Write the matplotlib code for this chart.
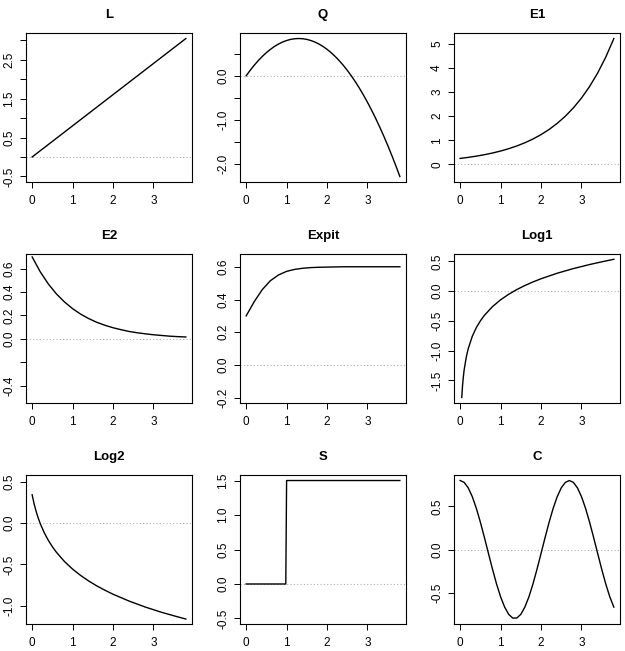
import matplotlib
matplotlib.use("Agg")
import matplotlib.pyplot as plt

plt.rcParams['font.family'] = ['Liberation Sans', 'DejaVu Sans']

# ---------------- data ----------------
titles = ["L", "Q", "E1", "E2", "Expit", "Log1", "Log2", "S", "C"]

x_L = [0.0, 1.0, 2.0, 3.0, 3.8]
y_L = [0.0, 0.8, 1.6, 2.4, 3.04]

x_01 = [round(0.1 * i, 1) for i in range(39)]  # 0.0 .. 3.8 grid positions
y_Q = [0, 0.125, 0.24, 0.345, 0.44, 0.525, 0.6, 0.665, 0.72, 0.765,
       0.8, 0.825, 0.84, 0.845, 0.84, 0.825, 0.8, 0.765, 0.72, 0.665,
       0.6, 0.525, 0.44, 0.345, 0.24, 0.125, 0, -0.135, -0.28, -0.435,
       -0.6, -0.775, -0.96, -1.155, -1.36, -1.575, -1.8, -2.035, -2.28]

x_02 = [0.0, 0.2, 0.4, 0.6, 0.8, 1.0, 1.2, 1.4, 1.6, 1.8,
        2.0, 2.2, 2.4, 2.6, 2.8, 3.0, 3.2, 3.4, 3.6, 3.8]
y_E1 = [0.25, 0.293, 0.344, 0.404, 0.474, 0.556, 0.653, 0.766, 0.899, 1.055,
        1.238, 1.453, 1.705, 2.001, 2.348, 2.756, 3.234, 3.795, 4.454, 5.226]
y_E2 = [0.7, 0.573, 0.469, 0.384, 0.315, 0.258, 0.211, 0.173, 0.141, 0.116,
        0.095, 0.078, 0.063, 0.052, 0.043, 0.035, 0.029, 0.023, 0.019, 0.016]
y_Expit = [0.3, 0.387, 0.461, 0.515, 0.550, 0.572, 0.584, 0.591, 0.595, 0.597,
           0.598, 0.599, 0.6, 0.6, 0.6, 0.6, 0.6, 0.6, 0.6, 0.6]

x_Log1 = [0.04, 0.06, 0.08, 0.1, 0.15, 0.2, 0.3, 0.4, 0.5, 0.6, 0.8, 1.0,
          1.2, 1.4, 1.6, 1.8, 2.0, 2.4, 2.8, 3.2, 3.6, 3.8]
y_Log1 = [-1.787, -1.580, -1.433, -1.319, -1.113, -0.966, -0.759, -0.612,
          -0.499, -0.406, -0.259, -0.145, -0.052, 0.027, 0.095, 0.155, 0.209,
          0.302, 0.380, 0.448, 0.508, 0.536]

x_Log2 = [0.0, 0.05, 0.1, 0.15, 0.2, 0.3, 0.4, 0.5, 0.6, 0.8, 1.0, 1.2,
          1.4, 1.6, 1.8, 2.0, 2.4, 2.8, 3.2, 3.6, 3.8]
y_Log2 = [0.34, 0.228, 0.137, 0.060, -0.007, -0.118, -0.209, -0.286, -0.353,
          -0.465, -0.556, -0.633, -0.700, -0.759, -0.811, -0.859, -0.942,
          -1.014, -1.077, -1.132, -1.158]

x_S = [0.0, 0.98, 1.0, 3.8]
y_S = [0.0, 0.0, 1.5, 1.5]

y_C = [0.8, 0.778, 0.715, 0.613, 0.478, 0.317, 0.139, -0.046, -0.229, -0.4,
       -0.549, -0.668, -0.752, -0.795, -0.795, -0.752, -0.668, -0.549, -0.4,
       -0.229, -0.046, 0.139, 0.317, 0.478, 0.613, 0.715, 0.778, 0.8, 0.778,
       0.715, 0.613, 0.478, 0.317, 0.139, -0.046, -0.229, -0.4, -0.549, -0.668]

series = [(x_L, y_L), (x_01, y_Q), (x_02, y_E1), (x_02, y_E2), (x_02, y_Expit),
          (x_Log1, y_Log1), (x_Log2, y_Log2), (x_S, y_S), (x_01, y_C)]

x_ticks = [0, 1, 2, 3]
x_tick_labels = ["0", "1", "2", "3"]

# y ticks and the labels that are shown ('' = tick without label)
y_ticks = [
    [-0.5, 0, 0.5, 1.0, 1.5, 2.0, 2.5, 3.0],
    [-2.0, -1.5, -1.0, -0.5, 0.0, 0.5],
    [0, 1, 2, 3, 4, 5],
    [-0.4, -0.2, 0.0, 0.2, 0.4, 0.6],
    [-0.2, 0.0, 0.2, 0.4, 0.6],
    [-1.5, -1.0, -0.5, 0.0, 0.5],
    [-1.0, -0.5, 0.0, 0.5],
    [-0.5, 0.0, 0.5, 1.0, 1.5],
    [-0.5, 0.0, 0.5],
]
y_tick_labels = [
    ["-0.5", "", "0.5", "", "1.5", "", "2.5", ""],
    ["-2.0", "", "-1.0", "", "0.0", ""],
    ["0", "1", "2", "3", "4", "5"],
    ["-0.4", "", "0.0", "0.2", "0.4", "0.6"],
    ["-0.2", "0.0", "0.2", "0.4", "0.6"],
    ["-1.5", "-1.0", "-0.5", "0.0", "0.5"],
    ["-1.0", "-0.5", "0.0", "0.5"],
    ["-0.5", "0.0", "0.5", "1.0", "1.5"],
    ["-0.5", "0.0", "0.5"],
]
y_limits = [(-0.642, 3.182), (-2.405, 0.97), (-0.729, 5.455), (-0.548, 0.725),
            (-0.232, 0.678), (-1.88, 0.625), (-1.218, 0.579), (-0.58, 1.58),
            (-0.864, 0.864)]
x_limits = (-0.152, 3.952)

# ---------------- layout ----------------
W, H = 625, 651
fig = plt.figure(figsize=(W / 100, H / 100), dpi=100)
col_left = [26, 240, 454]
row_top = [33, 254, 475]
pw, ph = 166, 149

for i in range(9):
    r, c = divmod(i, 3)
    ax = fig.add_axes([col_left[c] / W, 1 - (row_top[r] + ph) / H, pw / W, ph / H])
    xs, ys = series[i]
    ax.axhline(0, color="#b0b0b0", linestyle=(0, (1, 2)), linewidth=0.8, zorder=1)
    ax.plot(xs, ys, color="black", linewidth=1.0, zorder=2)
    ax.set_xlim(*x_limits)
    ax.set_ylim(*y_limits[i])
    ax.set_xticks(x_ticks)
    ax.set_xticklabels(x_tick_labels)
    ax.set_yticks(y_ticks[i])
    ax.set_yticklabels(y_tick_labels[i], rotation=90, va="center")
    ax.tick_params(direction="out", length=4.3, width=0.7, labelsize=8.5,
                   colors="black")
    ax.tick_params(axis="x", pad=5)
    ax.tick_params(axis="y", pad=3.5)
    for s in ax.spines.values():
        s.set_linewidth(0.8)
        s.set_color("black")
    ax.set_title(titles[i], fontsize=9.5, fontweight="bold", pad=11)

fig.savefig("out.png", dpi=100)
